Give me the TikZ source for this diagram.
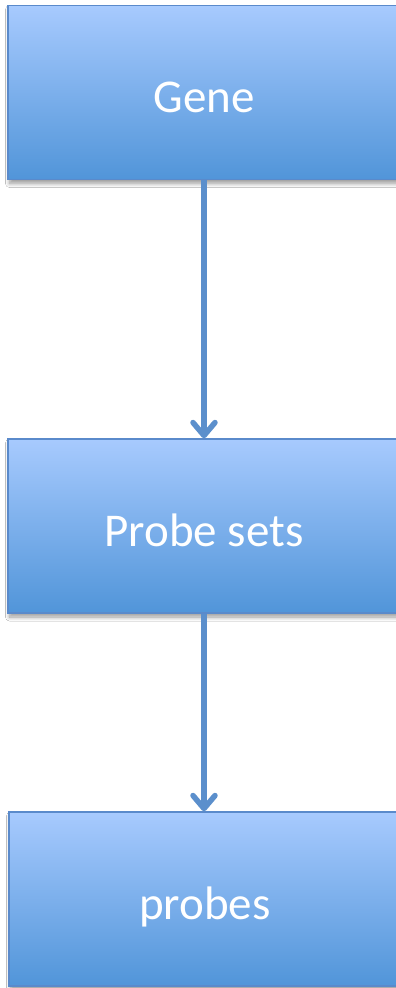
\documentclass[tikz,border=0pt]{standalone}
\usepackage{fontspec}
\setmainfont{Carlito}
\usetikzlibrary{arrows.meta,shadows.blur}
\definecolor{boxtop}{HTML}{A7CAFE}
\definecolor{boxbottom}{HTML}{5195D9}
\definecolor{boxline}{HTML}{5A8ACB}
\definecolor{linkblue}{HTML}{5B8FCC}
\tikzset{
  stage/.style={rectangle, minimum width=392pt, minimum height=174pt,
    top color=boxtop, bottom color=boxbottom, draw=boxline, line width=1.4pt,
    text=white, font=\fontsize{47}{56}\selectfont, text height=40pt, text depth=0pt,
    blur shadow={shadow xshift=1.5pt, shadow yshift=-4pt, shadow blur radius=4pt,
      shadow blur steps=10, shadow opacity=40}},
  link/.style={draw=linkblue, line width=5.5pt,
    -{Straight Barb[length=13pt,width=22pt,round]}}
}
\begin{document}
\begin{tikzpicture}[x=1pt,y=-1pt]
  \useasboundingbox (0,0) rectangle (396,988);
  \clip (0,0) rectangle (396,988);
  \fill[white] (0,0) rectangle (396,988);
  \node[stage] (gene)   at (204,92.5) {Gene};
  \node[stage] (sets)   at (204,526)  {Probe sets};
  \node[stage] (probes) at (205,899)  {probes};
  \draw[link] (gene.south) -- (sets.north);
  \draw[link] (sets.south) -- (sets.south |- probes.north);
\end{tikzpicture}
\end{document}
